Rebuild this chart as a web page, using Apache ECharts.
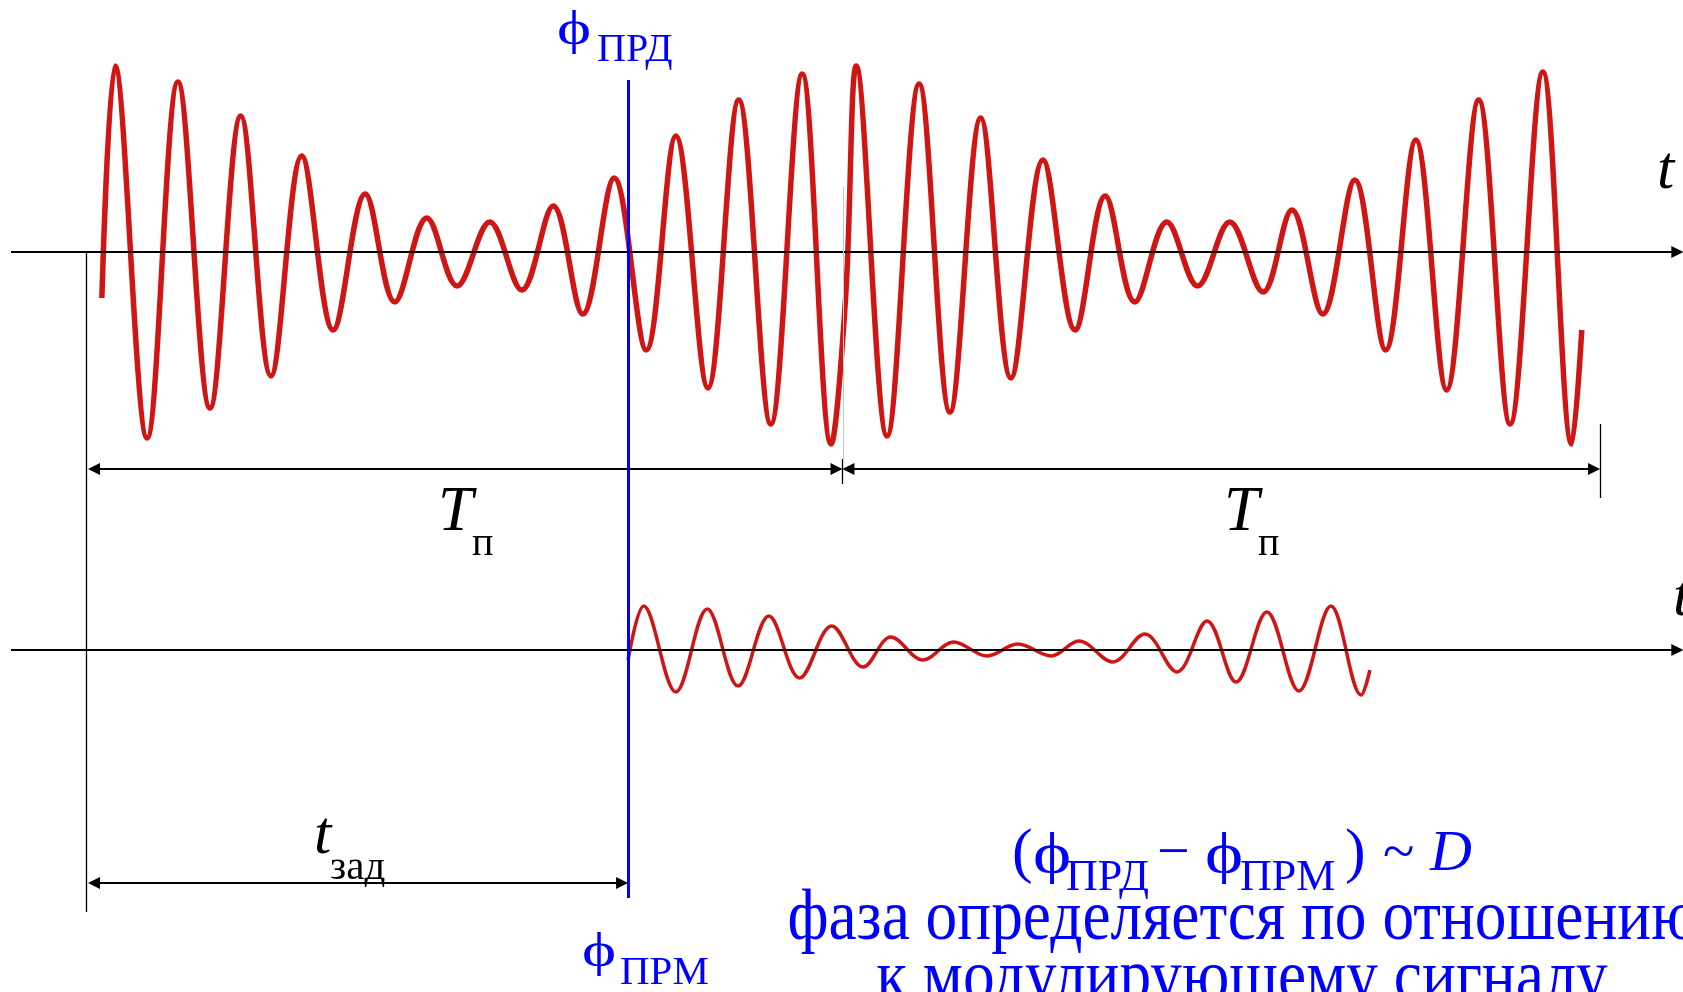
<!DOCTYPE html>
<html><head><meta charset="utf-8">
<script src="https://cdn.jsdelivr.net/npm/echarts@6/dist/echarts.min.js"></script>
<style>html,body{margin:0;padding:0;background:#fff;overflow:hidden}#c{width:1683px;height:992px}</style>
</head><body><div id="c"></div>
<script>
// ---- data (time in carrier periods, amplitude in relative units) ----
const periodTp = 12;          // repetition period T_п
const delayT = 8.59;          // t_зад
// transmitted signal (extrema)
const txT = [0.22,0.43,0.94,1.43,1.94,2.43,2.91,3.40,3.90,4.41,4.88,5.39,5.87,6.39,6.90,7.40,7.87,8.37,8.88,9.35,9.86,10.35,10.86,11.36,11.82,
             12.05,12.22,12.71,13.22,13.71,14.20,14.68,15.19,15.70,16.18,16.65,17.16,17.65,18.16,18.69,19.15,19.64,20.15,20.64,21.12,21.61,22.12,22.62,23.14,23.60,23.76];
const txV = [-0.23,0.93,-0.93,0.85,-0.78,0.68,-0.62,0.48,-0.39,0.29,-0.25,0.17,-0.17,0.15,-0.19,0.23,-0.31,0.37,-0.49,0.58,-0.68,0.76,-0.86,0.89,-0.96,
             -0.23,0.93,-0.92,0.84,-0.80,0.67,-0.63,0.46,-0.39,0.28,-0.25,0.15,-0.17,0.15,-0.20,0.21,-0.31,0.36,-0.49,0.56,-0.69,0.76,-0.86,0.90,-0.96,-0.39];
// received signal
const rxT = [8.59,8.84,9.35,9.85,10.34,10.83,11.32,11.83,12.33,12.77,13.28,13.77,14.30,14.79,15.32,15.76,16.30,16.81,17.32,17.80,18.26,18.75,19.26,19.77,20.25,20.39];
const rxV = [-0.05,0.22,-0.21,0.205,-0.18,0.17,-0.14,0.12,-0.085,0.065,-0.05,0.04,-0.03,0.03,-0.03,0.045,-0.06,0.08,-0.11,0.145,-0.16,0.19,-0.205,0.22,-0.225,-0.10];

const phi = 'ϕ';
const labelTx = 'ПРД', labelRx = 'ПРМ', labelP = 'п', labelDelay = 'зад';
const textLine2 = 'фаза определяется по отношению';
const textLine3 = 'к модулирующему сигналу';

// ---- chart ----
const chart = echarts.init(document.getElementById('c'), null, {renderer:'canvas'});
const SERIF = '"Liberation Serif", "Times New Roman", serif';
const BLUE = '#0000ff', RED = '#d01515';

function seg(a, b, style, s0, s1) {
  return [
    {coord: a, symbol: s0 || 'none', symbolSize: 12, lineStyle: style},
    {coord: b, symbol: s1 || 'none', symbolSize: 12, lineStyle: style}
  ];
}
const blk2 = {color:'#000', width:2, type:'solid'};
const blk1 = {color:'#000', width:1.3, type:'solid'};
const ah = 0.095; // arrow half length in t units

function T(x, base, s, size, o) {
  o = o || {};
  return {type:'text', x: x, y: base - 0.34*size, silent:true, z: 100,
    scaleX: o.sx || 1,
    style:{text:s, fontFamily:SERIF, fontSize:size, fontStyle:o.italic?'italic':'normal',
      fill:o.color||'#000', align:o.align||'left', verticalAlign:'middle'}};
}

const option = {
  animation:false,
  backgroundColor:'#fff',
  grid:{left:0, right:0, top:0, bottom:0, containLabel:false},
  xAxis:{type:'value', min:-1.4, max:25.37, show:false},
  yAxis:[{type:'value', min:-3.70, max:1.26, show:false},
         {type:'value', min:-1.71, max:3.25, show:false}],
  series:[
    {type:'line', name:'tx', yAxisIndex:0, smooth:0.36, symbol:'none', clip:false, z:2,
     lineStyle:{color:RED, width:5.5}, data: txT.map((t,i)=>[t, txV[i]])},
    {type:'line', name:'rx', yAxisIndex:1, smooth:0.36, symbol:'none', clip:false, z:2,
     lineStyle:{color:RED, width:3.5}, data: rxT.map((t,i)=>[t, rxV[i]]),
     markLine:{silent:true, animation:false, label:{show:false}, symbol:['none','none'],
       data:[ seg([-1.225,0],[25.28,0], blk2, 'none','triangle') ]}},
    {type:'line', name:'annot', yAxisIndex:0, data:[], clip:false, z:5,
     markLine:{silent:true, animation:false, label:{show:false}, symbol:['none','none'],
       data:[
         seg([-1.225,0],[25.28,0], blk2, 'none','triangle'),
         seg([-0.03,0],[-0.03,-3.30], blk1),
         seg([0+ah,-1.085],[periodTp-ah,-1.085], blk2, 'triangle','triangle'),
         seg([periodTp+ah,-1.085],[2*periodTp+0.05-ah,-1.085], blk2, 'triangle','triangle'),
         seg([periodTp,-1.035],[periodTp,-1.16], blk1),
         seg([2*periodTp+0.05,-0.86],[2*periodTp+0.05,-1.23], blk1),
         seg([periodTp+0.02,0.325],[periodTp+0.02,-1.04], {color:'#c8c8c8', width:1, type:'solid'}),
         seg([0+ah,-3.155],[delayT-ah,-3.155], blk2, 'triangle','triangle'),
         seg([delayT,0.86],[delayT,-3.23], {color:BLUE, width:3, type:'solid'})
       ]}}
  ],
  graphic:[
    T(557, 48, phi, 48, {color:BLUE, sx:1.35}), T(597, 64, labelTx, 40, {color:BLUE}),
    T(582, 970, phi, 48, {color:BLUE, sx:1.35}), T(620, 987, labelRx, 41, {color:BLUE}),
    T(438, 535, 'T', 63, {italic:true}), T(472, 558, labelP, 40),
    T(1224, 535, 'T', 63, {italic:true}), T(1258, 558, labelP, 40),
    T(314, 858, 't', 62, {italic:true}), T(330, 882, labelDelay, 41),
    T(1657, 193, 't', 62, {italic:true}),
    T(1673, 620, 't', 62, {italic:true}),
    T(1012, 876, '(', 62, {color:BLUE}),
    T(1033, 876, phi, 58, {color:BLUE, sx:1.25}),
    T(1066, 893, labelTx, 44, {color:BLUE}),
    T(1157, 874, '−', 58, {color:BLUE}),
    T(1205, 876, phi, 58, {color:BLUE, sx:1.25}),
    T(1240, 893, labelRx, 44, {color:BLUE}),
    T(1345, 876, ')', 62, {color:BLUE}),
    T(1383, 874, '~', 58, {color:BLUE}),
    T(1430, 874, 'D', 58, {color:BLUE, italic:true}),
    T(1243, 945, textLine2, 72, {color:BLUE, align:'center', sx:0.88}),
    T(1242, 1005, textLine3, 72, {color:BLUE, align:'center', sx:0.88})
  ]
};
chart.setOption(option);
</script></body></html>
